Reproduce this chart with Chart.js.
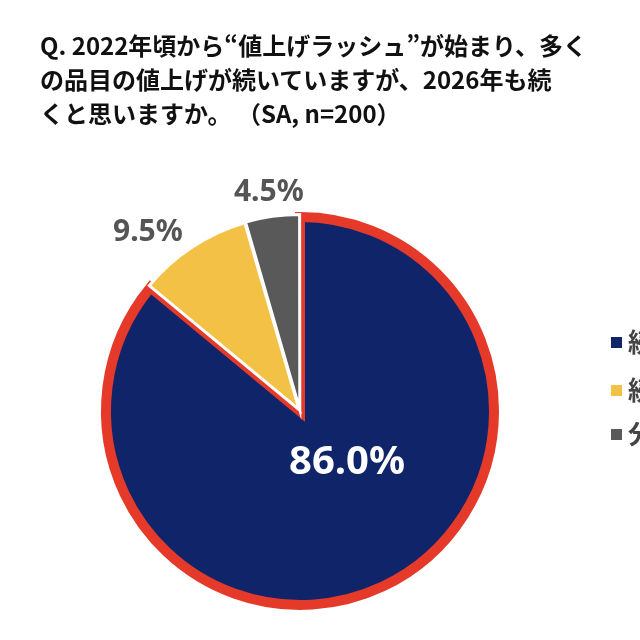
<!DOCTYPE html>
<html lang="ja">
<head>
<meta charset="UTF-8">
<title>値上げ</title>
<script src="https://cdn.jsdelivr.net/npm/chart.js"></script>
<style>
    html, body { margin: 0; width: 640px; height: 640px; overflow: hidden; background: #fff; }
    .title {
        position: absolute; left: 40px; top: 28px; width: 600px; overflow: hidden;
        font-family: "Noto Sans CJK JP", sans-serif; font-weight: bold; font-size: 24px;
        line-height: 34px; color: #111; white-space: nowrap;
    }
    #chart { position: absolute; left: 0; top: 0; }
</style>
</head>
<body>
<canvas id="chart" width="640" height="640"></canvas>
<div class="title">
    Q. 2022年頃から“値上げラッシュ”が始まり、多く<br>
    の品目の値上げが続いていますが、2026年も続<br>
    くと思いますか。 （SA, n=200）
</div>
<script>
const labels = ['続くと思う', '続かないと思う', '分からない'];
const values = [86.0, 9.5, 4.5];
const colors = ['#10246a', '#f3c146', '#595959'];

const labelPlugin = {
    id: 'pctLabels',
    afterDatasetsDraw(chart) {
        const ctx = chart.ctx;
        const arcs = chart.getDatasetMeta(0).data;
        ctx.save();
        ctx.textBaseline = 'middle';
        arcs.forEach((arc, i) => {
            const mid = (arc.startAngle + arc.endAngle) / 2;
            const R = arc.outerRadius;
            let r, align, color, a = mid;
            if (i === 0) { r = 0.36 * R; a = mid - 0.3; align = 'center'; color = '#fff'; ctx.font = 'bold 40px "Noto Sans", sans-serif'; }
            else if (i === 1) { r = 1.1 * R; align = 'right'; color = '#555'; ctx.font = 'bold 30px "Noto Sans", sans-serif'; }
            else { r = 1.14 * R; align = 'center'; color = '#555'; }
            ctx.fillStyle = color;
            ctx.textAlign = align;
            ctx.fillText(values[i].toFixed(1) + '%', arc.x + r * Math.cos(a), arc.y + r * Math.sin(a));
        });
        // legend (cut by page edge like the reference)
        ctx.font = 'bold 26px "Noto Sans CJK JP", sans-serif';
        ctx.textAlign = 'left';
        labels.forEach((l, i) => {
            const y = [342, 390, 434][i];
            ctx.fillStyle = colors[i];
            ctx.fillRect(611, y - 5, 11, 11);
            ctx.fillStyle = '#444';
            ctx.fillText(l, 628, y);
        });
        ctx.restore();
    }
};

new Chart(document.getElementById('chart'), {
    type: 'pie',
    data: {
        labels: labels,
        datasets: [{
            data: values,
            backgroundColor: colors,
            borderColor: ['#e53a2a', '#fff', '#fff'],
            borderWidth: [10, 3, 3],
            borderJoinStyle: 'miter',
            offset: [0, 6, 6]
        }]
    },
    options: {
        responsive: false,
        animation: false,
        layout: { padding: { left: 98, right: 138, top: 203, bottom: 21 } },
        plugins: { legend: { display: false }, tooltip: { enabled: false } }
    },
    plugins: [labelPlugin]
});
</script>
</body>
</html>
